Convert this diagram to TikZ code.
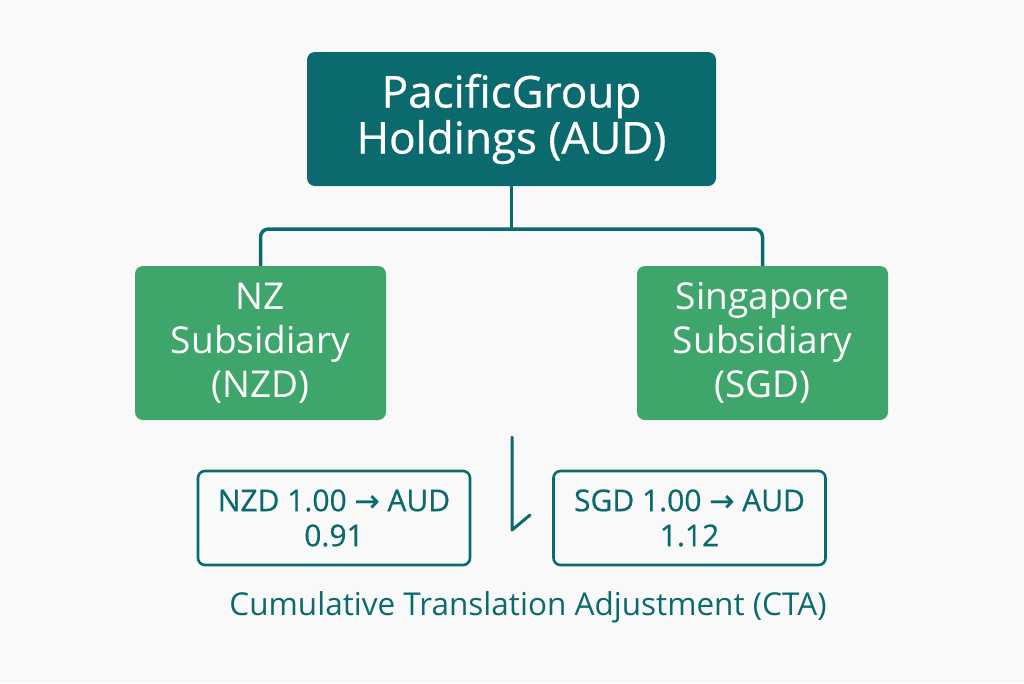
\documentclass[tikz,border=0pt]{standalone}
\usepackage{fontspec}
\setmainfont{Open Sans}
\newfontfamily\medfont[FakeBold=0.6]{Open Sans}
\newfontfamily\arrowfont[FakeBold=0.6]{DejaVu Sans}
\definecolor{teal}{HTML}{0B6A6E}
\definecolor{grn}{HTML}{3FA66B}
\definecolor{bg}{HTML}{F8F9F8}
\begin{document}
\begin{tikzpicture}[x=1pt,y=-1pt,
  topbox/.style={fill=teal,rounded corners=8pt,minimum width=409pt,minimum height=134pt,text=white,align=center,font=\medfont\fontsize{44}{46}\selectfont},
  subbox/.style={fill=grn,rounded corners=8pt,minimum width=251pt,minimum height=154pt,text=white,align=center,font=\fontsize{37}{44}\selectfont},
  ratebox/.style={draw=teal,line width=2.6pt,rounded corners=7pt,minimum width=272pt,minimum height=94pt,text=teal,align=center,font=\medfont\fontsize{30}{35}\selectfont},
  conn/.style={draw=teal,line width=3.5pt}]
\fill[bg] (0,0) rectangle (1024,683);
\useasboundingbox (0,0) rectangle (1024,683);
\node[topbox] (top) at (511.5,119) {PacificGroup\\Holdings (AUD)};
\node[subbox] (nz) at (260.5,343) {NZ\\Subsidiary\\(NZD)};
\node[subbox] (sg) at (762.5,343) {Singapore\\Subsidiary\\(SGD)};
\node[ratebox] (nzr) at (334,518) {NZD 1.00 {\arrowfont →} AUD\\0.91};
\node[ratebox] (sgr) at (689.5,518) {SGD 1.00 {\arrowfont →} AUD\\1.12};
\node[text=teal,font=\fontsize{31.5}{34}\selectfont] (cta) at (528,607) {Cumulative Translation Adjustment (CTA)};
\coordinate (j) at (511.5,229);
\draw[conn] (top.south) -- (j);
\draw[conn,rounded corners=8pt] (nz.north) -- (nz.north |- j) -- (sg.north |- j) -- (sg.north);
\coordinate (a1) at (512,437);
\coordinate (a2) at (512,530);
\coordinate (a3) at (530,515);
\draw[conn,line width=3pt,line cap=round,line join=round] (a1) -- (a2) -- (a3);
\end{tikzpicture}
\end{document}
